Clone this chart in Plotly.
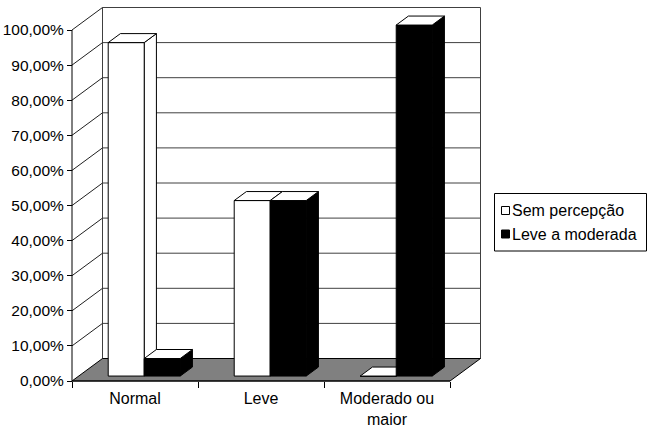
import plotly.graph_objects as go

# ---- data -------------------------------------------------------------
categorias = ["Normal", "Leve", "Moderado ou<br>maior"]
serie_nomes = ["Sem percepção", "Leve a moderada"]
sem_percepcao = [95, 50, 0]
leve_moderada = [5, 50, 100]
y_ticks = [0, 10, 20, 30, 40, 50, 60, 70, 80, 90, 100]
y_tick_labels = [f"{v:.2f}".replace(".", ",") + "%" for v in y_ticks]

# ---- geometry (pixels) -------------------------------------------------
W, H = 647, 428
X0_PX, Y0_PX = 72, 381          # front origin of the axes
CAT_PX = 126                     # width of one category on the front plane
PCT_PX = 3.51                    # pixels per percentage point
PAD = 3                          # room so edge lines are not clipped
DEPTH_X_PX, DEPTH_Y_PX = 30.5, 22.5   # oblique offset to the back wall
BACK_RIGHT_PX = 481

ml = X0_PX - PAD
mr = W - (BACK_RIGHT_PX + PAD)
mb = H - (Y0_PX + PAD)
mt = 4
pw = W - ml - mr
ph = H - mt - mb

x_lo = -0.5 - PAD / CAT_PX
x_hi = x_lo + pw / CAT_PX
y_lo = -PAD / PCT_PX
y_hi = y_lo + ph / PCT_PX

DX = DEPTH_X_PX / CAT_PX
DY = DEPTH_Y_PX / PCT_PX
X_LEFT, X_RIGHT = -0.5, 2.5

BAR_W = 36 / CAT_PX
GROUP_SHIFT = 2.5 / CAT_PX
Z_FRONT, Z_BACK = 0.22, 0.62

WALL_LINE = "#404040"
FLOOR = "#808080"
FONT = "Liberation Sans, Arial, sans-serif"


def off(x, y, z):
    return x + DX * z, y + DY * z


def poly(pts, fill, line="black", width=1):
    xs = [p[0] for p in pts] + [pts[0][0]]
    ys = [p[1] for p in pts] + [pts[0][1]]
    return go.Scatter(
        x=xs, y=ys, mode="lines",
        fill="toself" if fill else "none",
        fillcolor=fill if fill else None,
        line=dict(color=line, width=width),
        hoverinfo="skip", showlegend=False,
    )


def segment(p, q, color, width=1):
    return go.Scatter(
        x=[p[0], q[0]], y=[p[1], q[1]], mode="lines",
        line=dict(color=color, width=width),
        hoverinfo="skip", showlegend=False,
    )


traces = []

# back wall gridlines and edges
for v in y_ticks[1:-1]:
    traces.append(segment(off(X_LEFT, v, 1), off(X_RIGHT, v, 1), WALL_LINE))
traces.append(poly([off(X_LEFT, 0, 1), off(X_LEFT, 100, 1),
                    off(X_RIGHT, 100, 1), off(X_RIGHT, 0, 1)], None, WALL_LINE))

# side wall: diagonals from the front axis to the back wall
for v in y_ticks[1:]:
    traces.append(segment((X_LEFT, v), off(X_LEFT, v, 1), "#202020"))

# floor
traces.append(poly([(X_LEFT, 0), (X_RIGHT, 0), off(X_RIGHT, 0, 1), off(X_LEFT, 0, 1)],
                   FLOOR, "black"))

# front value axis
traces.append(segment((X_LEFT, 0), (X_LEFT, 100), "black"))
traces.append(segment((X_LEFT, 0), (X_RIGHT, 0), "black"))


def bar(xl, xr, h, front_col, top_col):
    side = [off(xr, 0, Z_FRONT), off(xr, 0, Z_BACK), off(xr, h, Z_BACK), off(xr, h, Z_FRONT)]
    front = [off(xl, 0, Z_FRONT), off(xr, 0, Z_FRONT), off(xr, h, Z_FRONT), off(xl, h, Z_FRONT)]
    top = [off(xl, h, Z_FRONT), off(xr, h, Z_FRONT), off(xr, h, Z_BACK), off(xl, h, Z_BACK)]
    return [poly(side, front_col), poly(front, front_col), poly(top, top_col)]


for i in range(len(categorias)):
    c = i + GROUP_SHIFT
    traces += bar(c - BAR_W, c, sem_percepcao[i], "white", "white")
    traces += bar(c, c + BAR_W, leve_moderada[i], "black", "white")

fig = go.Figure(traces)


def px_x(p):
    return (p - ml) / pw


def px_y(p):
    return (H - mb - p) / ph


# legend box drawn in paper coordinates
shapes = [dict(type="rect", xref="paper", yref="paper",
               x0=px_x(494.5), x1=px_x(646.5), y0=px_y(251), y1=px_y(193.5),
               line=dict(color="black", width=1), fillcolor="white")]
annotations = []
legend_rows = [(210.5, "white"), (234, "black")]
for nome, (cy, col) in zip(serie_nomes, legend_rows):
    shapes.append(dict(type="rect", xref="paper", yref="paper",
                       x0=px_x(501.5), x1=px_x(509.5), y0=px_y(cy + 4), y1=px_y(cy - 4),
                       line=dict(color="black", width=1), fillcolor=col))
    annotations.append(dict(text=nome, xref="paper", yref="paper",
                            x=px_x(510), y=px_y(cy), xanchor="left", yanchor="middle",
                            showarrow=False, font=dict(family=FONT, size=16, color="black")))

fig.update_layout(
    width=W, height=H,
    margin=dict(l=ml, r=mr, t=mt, b=mb, pad=0),
    paper_bgcolor="white", plot_bgcolor="white",
    showlegend=False,
    shapes=shapes, annotations=annotations,
    font=dict(family=FONT, color="black"),
    xaxis=dict(
        range=[x_lo, x_hi], anchor="free", position=PAD / ph,
        tickmode="array", tickvals=[0, 1, 2], ticktext=categorias,
        ticks="", showgrid=False, zeroline=False, showline=False,
        ticklabelstandoff=6,
        tickfont=dict(size=16, family=FONT, color="black"),
        minor=dict(tickmode="array", tickvals=[-0.5, 0.5, 1.5, 2.5], ticks="outside",
                   ticklen=6, tickwidth=1, tickcolor="black", showgrid=False),
        automargin=False, fixedrange=True,
    ),
    yaxis=dict(
        range=[y_lo, y_hi], anchor="free", position=PAD / pw,
        tickmode="array", tickvals=y_ticks, ticktext=y_tick_labels,
        ticks="outside", ticklen=5, tickwidth=1, tickcolor="black",
        showgrid=False, zeroline=False, showline=False,
        tickfont=dict(size=15.5, family=FONT, color="black"),
        automargin=False, fixedrange=True,
    ),
)

fig.write_html("out.html")
